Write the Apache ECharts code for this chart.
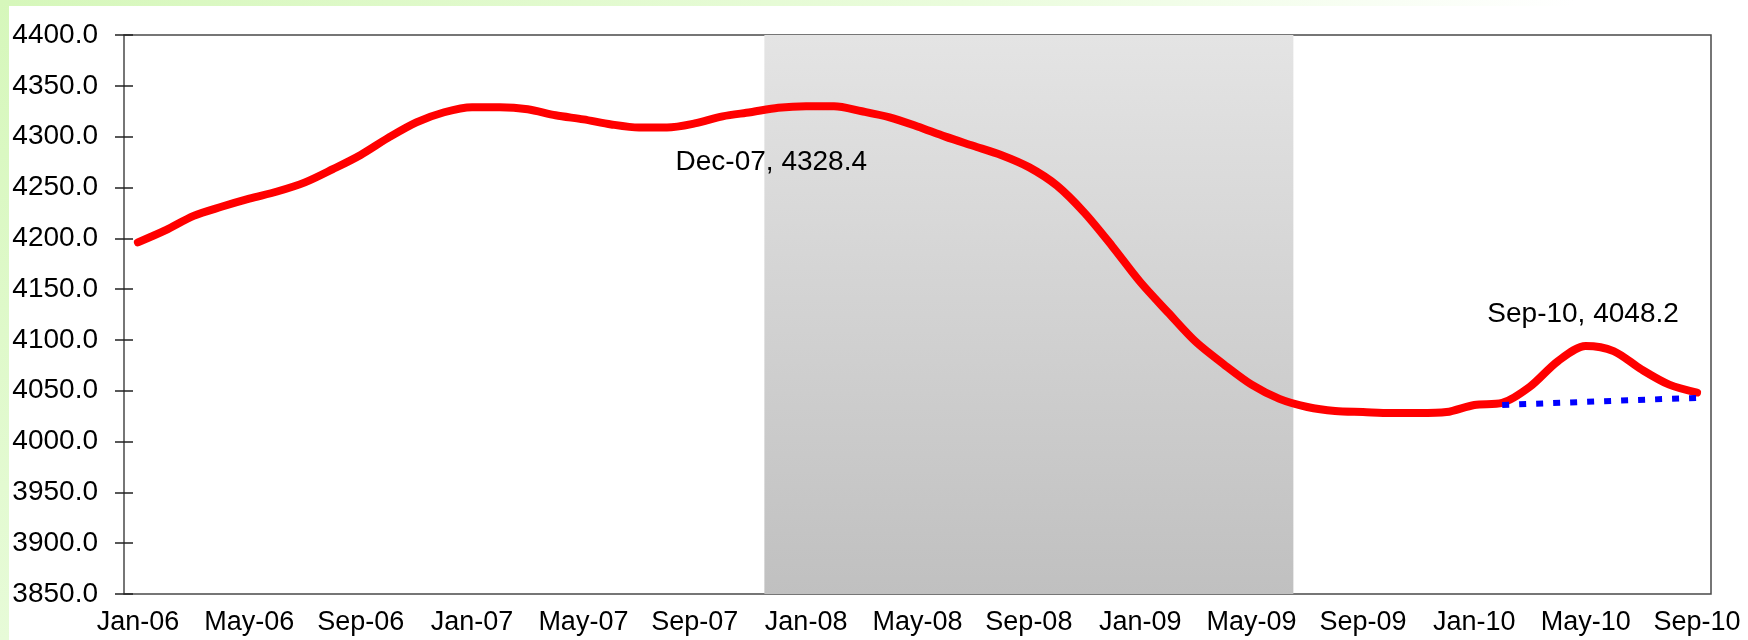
<!DOCTYPE html>
<html>
<head>
    <meta charset="utf-8">
    <title>echarts</title>
    <style>
        html, body {margin: 0; padding: 0;}
        body {
            width: 1748px; height: 640px; position: relative; overflow: hidden;
            background: linear-gradient(to bottom, #d6f7bb, #e7fbd8);
        }
        .frame {
            position: absolute; left: 9px; top: 6px; right: 0; bottom: 0; background: #fff;
        }
        .topband {
            position: absolute; left: 9px; top: 0; right: 0; height: 6px;
            background: linear-gradient(to right, #d6f7bb, #eafcdc 55%, #ffffff 90%);
        }
        #main {position: absolute; left: 0; top: 0; width: 1748px; height: 640px;}
    </style>
</head>
<body>
<div class="topband"></div>
<div class="frame"></div>
<div id="main"></div>
<script src="https://cdn.jsdelivr.net/npm/echarts@6/dist/echarts.min.js"></script>
<script>
    // months Jan-06 .. Sep-10
    var months = [
        'Jan-06', 'Feb-06', 'Mar-06', 'Apr-06', 'May-06', 'Jun-06', 'Jul-06', 'Aug-06', 'Sep-06', 'Oct-06', 'Nov-06', 'Dec-06',
        'Jan-07', 'Feb-07', 'Mar-07', 'Apr-07', 'May-07', 'Jun-07', 'Jul-07', 'Aug-07', 'Sep-07', 'Oct-07', 'Nov-07', 'Dec-07',
        'Jan-08', 'Feb-08', 'Mar-08', 'Apr-08', 'May-08', 'Jun-08', 'Jul-08', 'Aug-08', 'Sep-08', 'Oct-08', 'Nov-08', 'Dec-08',
        'Jan-09', 'Feb-09', 'Mar-09', 'Apr-09', 'May-09', 'Jun-09', 'Jul-09', 'Aug-09', 'Sep-09', 'Oct-09', 'Nov-09', 'Dec-09',
        'Jan-10', 'Feb-10', 'Mar-10', 'Apr-10', 'May-10', 'Jun-10', 'Jul-10', 'Aug-10', 'Sep-10'
    ];
    // red series
    var values = [
        4196, 4208, 4222, 4231, 4239, 4246, 4255, 4268, 4282, 4299, 4314, 4324,
        4329, 4329, 4327, 4321, 4317, 4312, 4309, 4309, 4313, 4320, 4324, 4328.4,
        4330, 4330, 4325, 4319, 4310, 4300, 4291, 4282, 4270, 4252, 4225, 4192,
        4157, 4127, 4098, 4076, 4056, 4042, 4034, 4030, 4029, 4028, 4028, 4029,
        4036, 4038, 4054, 4079, 4094, 4089, 4071, 4056, 4048.2
    ];
    // blue dotted trend: start and end
    var trendStart = ['Feb-10', 4036];
    var trendEnd = ['Sep-10', 4043];
    // shaded period
    var shadeFrom = 'Dec-07';
    var shadeTo = 'Jun-09';
    // labelled points
    var peakLabel = ['Dec-07', 4328.4];
    var lastLabel = ['Sep-10', 4048.2];
    var yMin = 3850, yMax = 4400, yStep = 50;

    var trend = months.map(function (m) {
        if (m === trendStart[0]) return trendStart[1];
        if (m === trendEnd[0]) return trendEnd[1];
        return null;
    });

    var font = 'Liberation Sans';
    var chart = echarts.init(document.getElementById('main'));

    var option = {
        animation: false,
        backgroundColor: 'transparent',
        grid: {
            left: 124, top: 35, right: 37, bottom: 46,
            show: true, borderColor: '#4a4a4a', borderWidth: 1.5, backgroundColor: 'transparent'
        },
        xAxis: {
            type: 'category',
            data: months,
            boundaryGap: true,
            offset: -5,
            axisLine: {show: false},
            axisTick: {interval: 0, length: 12, lineStyle: {color: '#222', width: 1.5}},
            axisLabel: {interval: 3, margin: 20, color: '#000', fontSize: 27, fontFamily: font},
            splitLine: {show: false}
        },
        yAxis: {
            type: 'value',
            min: yMin, max: yMax, interval: yStep,
            offset: -9,
            axisLine: {show: false},
            axisTick: {show: true, length: 18, lineStyle: {color: '#222', width: 1.5}},
            axisLabel: {
                margin: 35, color: '#000', fontSize: 28, fontFamily: font,
                formatter: function (v) { return v.toFixed(1); }
            },
            splitLine: {show: false}
        },
        series: [
            {
                // shaded band
                type: 'custom',
                z: 1,
                data: [[months.indexOf(shadeFrom), months.indexOf(shadeTo)]],
                encode: {x: [0, 1]},
                renderItem: function (params, api) {
                    var p0 = api.coord([api.value(0), yMax]);
                    var p1 = api.coord([api.value(1), yMin]);
                    var band = api.size([1, 0])[0];
                    return {
                        type: 'rect',
                        shape: {x: p0[0] - band / 2, y: p0[1], width: p1[0] - p0[0] + band, height: p1[1] - p0[1]},
                        style: {
                            fill: new echarts.graphic.LinearGradient(0, 0, 0, 1, [
                                {offset: 0, color: '#e4e4e4'},
                                {offset: 1, color: '#c0c0c0'}
                            ])
                        }
                    };
                }
            },
            {
                type: 'line',
                z: 3,
                data: values,
                smooth: 0.3,
                symbol: 'none',
                lineStyle: {color: '#ff0000', width: 8, cap: 'round', join: 'round'},
                markPoint: {
                    symbol: 'circle',
                    symbolSize: 1,
                    itemStyle: {color: 'transparent'},
                    label: {show: true, position: 'inside', color: '#000', fontSize: 28, fontFamily: font},
                    data: [
                        {coord: peakLabel, label: {formatter: peakLabel[0] + ', ' + peakLabel[1].toFixed(1), offset: [-7, 55]}},
                        {coord: lastLabel, label: {formatter: lastLabel[0] + ', ' + lastLabel[1].toFixed(1), offset: [-114, -78]}}
                    ]
                }
            },
            {
                type: 'line',
                z: 4,
                data: trend,
                connectNulls: true,
                symbol: 'none',
                lineStyle: {color: '#0000ff', width: 6, type: [7, 10], cap: 'butt'}
            }
        ]
    };
    chart.setOption(option);
</script>
</body>
</html>
